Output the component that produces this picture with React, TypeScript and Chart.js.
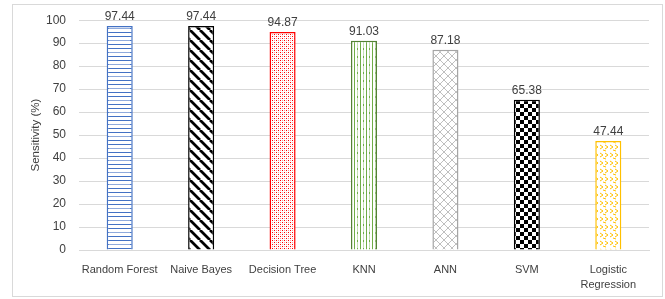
import React, { useEffect, useRef } from "react";
import { Chart, registerables } from "chart.js";

Chart.register(...registerables);

const categories: (string | string[])[] = [
  "Random Forest",
  "Naive Bayes",
  "Decision Tree",
  "KNN",
  "ANN",
  "SVM",
  ["Logistic", "Regression"],
];
const sensitivity = [97.44, 97.44, 94.87, 91.03, 87.18, 65.38, 47.44];
const borderColors = ["#4472C4", "#000000", "#FF0000", "#548235", "#A5A5A5", "#000000", "#FFC000"];
const yTicks = [0, 10, 20, 30, 40, 50, 60, 70, 80, 90, 100];
const yTitle = "Sensitivity (%)";

const FONT = "'Liberation Sans', Arial, sans-serif";
const TEXT = "#404040";

function tile(w: number, h: number, draw: (c: CanvasRenderingContext2D) => void) {
  const cv = document.createElement("canvas");
  cv.width = w;
  cv.height = h;
  const c = cv.getContext("2d")!;
  c.fillStyle = "#ffffff";
  c.fillRect(0, 0, w, h);
  draw(c);
  const ctx = document.createElement("canvas").getContext("2d")!;
  return ctx.createPattern(cv, "repeat")!;
}

function makePatterns() {
  const rf = tile(26, 12, (c) => {
    c.fillStyle = "#4472C4";
    c.fillRect(0, 0, 26, 1);
    c.fillStyle = "#8FAADC";
    c.fillRect(0, 4, 26, 1);
    c.fillStyle = "#4472C4";
    c.fillRect(0, 8, 26, 1);
    c.fillRect(0, 4, 5, 1);
  });
  const nb = tile(10, 10, (c) => {
    c.strokeStyle = "#000";
    c.lineWidth = 2.8;
    c.beginPath();
    for (let k = -10; k <= 20; k += 10) {
      c.moveTo(k, 0);
      c.lineTo(k + 10, 10);
    }
    c.stroke();
  });
  const dt = tile(4, 4, (c) => {
    c.fillStyle = "#FF0000";
    c.fillRect(0, 0, 1, 1);
    c.fillRect(2, 2, 1, 1);
    c.fillStyle = "#FF9999";
    c.fillRect(2, 0, 1, 1);
    c.fillRect(0, 2, 1, 1);
  });
  const knn = tile(6, 8, (c) => {
    c.fillStyle = "#70AD47";
    c.fillRect(0, 0, 1, 8);
    c.fillStyle = "#C5E0B4";
    c.fillRect(3, 0, 1, 8);
    c.fillStyle = "#70AD47";
    c.fillRect(3, 0, 1, 2);
  });
  const ann = tile(8, 8, (c) => {
    c.strokeStyle = "#BFBFBF";
    c.lineWidth = 1;
    c.beginPath();
    c.moveTo(0, 4);
    c.lineTo(4, 0);
    c.lineTo(8, 4);
    c.lineTo(4, 8);
    c.closePath();
    c.stroke();
  });
  const svm = tile(8, 8, (c) => {
    c.fillStyle = "#000";
    c.fillRect(0, 0, 4, 4);
    c.fillRect(4, 4, 4, 4);
  });
  const lr = tile(10, 8, (c) => {
    c.strokeStyle = "#FFC000";
    c.lineWidth = 1;
    c.beginPath();
    c.moveTo(0, 1);
    c.lineTo(3, 3);
    c.lineTo(0, 5);
    c.moveTo(5, 1);
    c.lineTo(8, 3);
    c.lineTo(5, 5);
    c.moveTo(3, 6);
    c.lineTo(6, 7);
    c.stroke();
  });
  return [rf, nb, dt, knn, ann, svm, lr];
}

const framePlugin = {
  id: "frame",
  beforeDraw(chart: any) {
    const c = chart.ctx;
    c.save();
    c.fillStyle = "#fff";
    c.fillRect(0, 0, chart.width, chart.height);
    c.strokeStyle = "#D9D9D9";
    c.lineWidth = 1;
    c.strokeRect(12.5, 4.5, 650, 292);
    c.restore();
  },
  afterDraw(chart: any) {
    const c = chart.ctx;
    const area = chart.chartArea;
    c.save();
    c.fillStyle = TEXT;
    c.font = `11.5px ${FONT}`;
    c.translate(36, (area.top + area.bottom) / 2);
    c.rotate(-Math.PI / 2);
    c.textAlign = "center";
    c.textBaseline = "middle";
    c.fillText(yTitle, 0, 0);
    c.restore();
    const meta = chart.getDatasetMeta(0);
    c.save();
    c.fillStyle = TEXT;
    c.font = `12px ${FONT}`;
    c.textAlign = "center";
    c.textBaseline = "bottom";
    meta.data.forEach((bar: any, i: number) => {
      c.fillText(sensitivity[i].toFixed(2), bar.x, bar.y - 3);
    });
    c.restore();
  },
};

export default function App() {
  const ref = useRef<HTMLCanvasElement>(null);
  useEffect(() => {
    const patterns = makePatterns();
    const chart = new Chart(ref.current!, {
      type: "bar",
      data: {
        labels: categories as any,
        datasets: [
          {
            data: sensitivity,
            backgroundColor: patterns as any,
            borderColor: borderColors,
            borderWidth: 1.5,
            categoryPercentage: 1,
            barPercentage: 0.32,
          },
        ],
      },
      options: {
        responsive: false,
        animation: false,
        layout: { padding: { left: 12, top: 18, right: 16, bottom: 4 } },
        plugins: { legend: { display: false }, tooltip: { enabled: false } },
        scales: {
          x: {
            grid: { display: false },
            border: { color: "#D9D9D9" },
            ticks: {
              color: TEXT,
              font: { family: FONT, size: 11, lineHeight: 1.35 },
              padding: 5,
              maxRotation: 0,
              autoSkip: false,
            },
            afterFit: (s: any) => {
              s.height = 45;
            },
          },
          y: {
            min: 0,
            max: 100,
            afterBuildTicks: (s: any) => {
              s.ticks = yTicks.map((v) => ({ value: v }));
            },
            grid: { color: "#D9D9D9", drawTicks: false },
            border: { display: false },
            ticks: {
              color: TEXT,
              font: { family: FONT, size: 12 },
              padding: 13,
            },
            afterFit: (s: any) => {
              s.width = 67;
            },
          },
        },
      },
      plugins: [framePlugin],
    });
    return () => chart.destroy();
  }, []);
  return (
    <div style={{ position: "absolute", left: 0, top: 0, width: 665, height: 299 }}>
      <canvas ref={ref} width={665} height={299} style={{ display: "block" }} />
    </div>
  );
}
